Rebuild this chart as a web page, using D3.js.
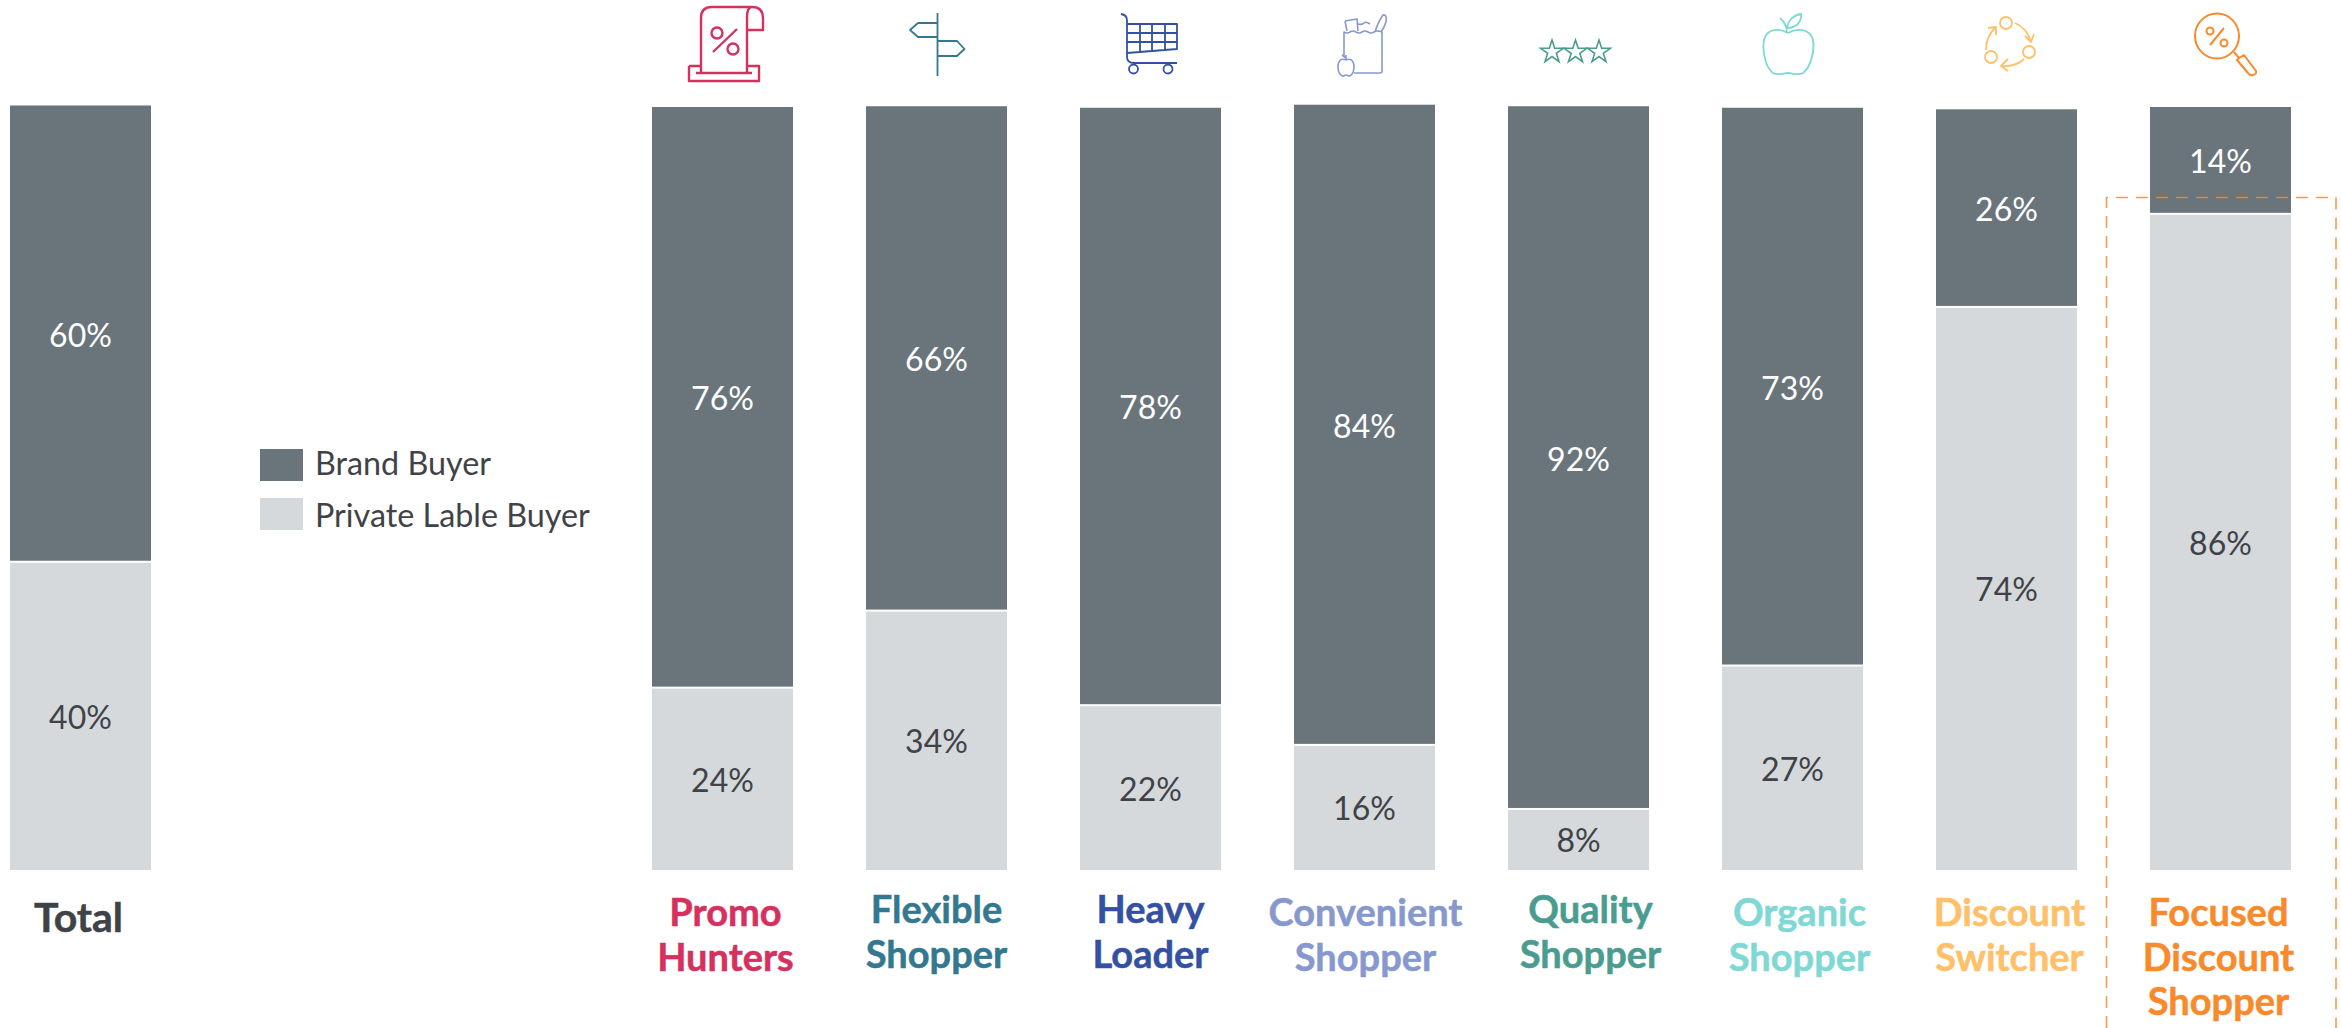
<!DOCTYPE html>
<html><head><meta charset="utf-8">
<script src="https://cdn.jsdelivr.net/npm/d3@7"></script>
<style>html,body{margin:0;padding:0;background:#fff}svg{display:block}text{font-family:Lato,sans-serif}</style>
</head><body><svg id="c" width="2341" height="1028"></svg>
<script>
const categories=["Total","Promo Hunters","Flexible Shopper","Heavy Loader","Convenient Shopper","Quality Shopper","Organic Shopper","Discount Switcher","Focused Discount Shopper"];
const slots=["Total","gap1","gap2","Promo Hunters","Flexible Shopper","Heavy Loader","Convenient Shopper","Quality Shopper","Organic Shopper","Discount Switcher","Focused Discount Shopper"];
const brandValues=[59.8,76.1,66.1,78.3,83.9,92.1,73.1,25.9,14.0];
const privateValues=[40.4,23.9,34.0,21.6,16.4,8.0,26.8,73.8,86.0];
const brandLabels=["60%","76%","66%","78%","84%","92%","73%","26%","14%"];
const privateLabels=["40%","24%","34%","22%","16%","8%","27%","74%","86%"];
const nameLines=[["Total"],["Promo","Hunters"],["Flexible","Shopper"],["Heavy","Loader"],["Convenient","Shopper"],["Quality","Shopper"],["Organic","Shopper"],["Discount","Switcher"],["Focused","Discount","Shopper"]];
const nameColors=["#3f4347","#d6305f","#33788f","#3450a3","#8798cf","#4a9c90","#7fd8d3","#ffc069","#f98a2b"];
const nameDx=[-2,3,0,0,1,12,7,3,-2];
const nameBaseline=[932,926,923,923,926,923,926,926,926];
const nameSize=[41,38,38,38,38,38,38,38,38];
const legendItems=["Brand Buyer","Private Lable Buyer"];
const brandColor="#6a757b",privateColor="#d5d9dc",textDark="#3f4347";

const svg=d3.select("#c");
const x=d3.scaleBand().domain(slots).range([10,2291]).paddingInner(73/214).paddingOuter(0);
const y=d3.scaleLinear().domain([0,100]).range([870,107]);
const rows=categories.map((c,i)=>({c,i,b:brandValues[i],p:privateValues[i]}));
const bars=svg.append("g").selectAll("g").data(rows).join("g");
bars.append("rect").attr("x",d=>x(d.c)).attr("width",x.bandwidth())
  .attr("y",d=>y(d.p+d.b)).attr("height",d=>y(d.p)-y(d.p+d.b)-1).attr("fill",brandColor);
bars.append("rect").attr("x",d=>x(d.c)).attr("width",x.bandwidth())
  .attr("y",d=>y(d.p)+1).attr("height",d=>y(0)-y(d.p)-1).attr("fill",privateColor);
const cx=d=>x(d.c)+x.bandwidth()/2;
bars.append("text").attr("x",cx).attr("y",d=>(y(d.p)+y(d.p+d.b))/2+13).attr("text-anchor","middle")
  .attr("font-size",32).attr("fill","#fff").text(d=>brandLabels[d.i]);
bars.append("text").attr("x",cx).attr("y",d=>(y(0)+y(d.p))/2+13).attr("text-anchor","middle")
  .attr("font-size",32).attr("fill",textDark).text(d=>privateLabels[d.i]);
// category names
bars.each(function(d){
  const g=d3.select(this);
  nameLines[d.i].forEach((t,k)=>{
    g.append("text").attr("x",cx(d)+nameDx[d.i]).attr("y",nameBaseline[d.i]+k*44.5)
     .attr("text-anchor","middle").attr("font-size",nameSize[d.i]).attr("font-weight",700)
     .attr("stroke",nameColors[d.i]).attr("stroke-width",0.5)
     .attr("fill",nameColors[d.i]).text(t);
  });
});
// legend
const lg=svg.append("g").selectAll("g").data(legendItems).join("g");
lg.append("rect").attr("x",260).attr("width",43).attr("y",(d,i)=>449+i*49).attr("height",32)
  .attr("fill",(d,i)=>i?privateColor:brandColor);
lg.append("text").attr("x",315).attr("y",(d,i)=>475+i*52).attr("font-size",32.3).attr("fill",textDark).text(d=>d);
// highlight box
svg.append("path").attr("d","M2106.5,1028V197.5H2336V1028").attr("fill","none")
  .attr("stroke","#f98a2b").attr("stroke-width",1.6).attr("stroke-dasharray","12 8").attr("opacity",.85);
// icons
const icons=[
 {c:"#d6305f",w:2.4,d:"M701,73V18Q701,7 712,7H752Q763,7 763,18V30H747V18Q747,7 752,7M747,30V73M696,73H752M689,66H701M747,66H759V81H689V66M737,29L713,52M722.5,33a5.5,5.5 0 1,1 -11,0a5.5,5.5 0 1,1 11,0M738.5,49a5.5,5.5 0 1,1 -11,0a5.5,5.5 0 1,1 11,0"},
 {c:"#33788f",w:1.8,d:"M937.5,13V76M937.5,23H918L910,30L918,37H937.5M937.5,41H957L964.5,49L957,56H937.5"},
 {c:"#3450a3",w:1.8,d:"M1121,14Q1127,15 1127,20V57Q1127,63 1134,63H1177M1127,24H1177V49L1127,53M1127,33H1177M1127,42H1177M1140,24V52M1152,24V51M1165,24V50M1138,69a4.5,4.5 0 1,1 -9,0a4.5,4.5 0 1,1 9,0M1172.500,69a4.500,4.500 0 1,1 -9,0a4.500,4.500 0 1,1 9,0"},
 {c:"#8798cf",w:1.6,d:"M1344,56V32Q1347,34 1350,32T1356,32T1362,32T1368,32T1374,32T1382,32V71Q1382,73 1380,73H1354M1345,21L1357,19L1358,31M1345,21L1347,31M1358,24Q1362,25 1364,23T1370,24M1375,32Q1378,22 1383,15Q1387,14 1386,22Q1384,28 1381,32M1346,60c-4,-2 -8,0 -8,7c0,6 3,9 5,9c1,0 2,-1 3,-1c1,0 2,1 3,1c2,0 5,-3 5,-9c0,-7 -4,-9 -8,-7M1346,60V55M1346,58L1342,55"},
 {c:"#7fd8d3",w:1.8,d:"M1788,33C1780,28 1767,28 1764,40C1762,52 1766,68 1773,73C1778,76 1784,73 1788,73C1792,73 1798,76 1803,73C1810,68 1815,52 1813,40C1810,28 1796,28 1788,33M1787,33Q1787,24 1780,18M1787,28C1788,20 1794,15 1801,14C1802,22 1796,28 1787,28"},
 {c:"#ffc069",w:1.8,d:"M2012,23a6,6 0 1,1 -12,0a6,6 0 1,1 12,0M2035,52a6,6 0 1,1 -12,0a6,6 0 1,1 12,0M1997,57a6,6 0 1,1 -12,0a6,6 0 1,1 12,0M2015,23Q2027,28 2031,42M2025,36L2031,42L2034,34M2024,59Q2016,67 2001,66M2008,59L2001,66L2008,71M1986,50Q1986,36 1996,27M1988,28L1996,27L1996,35"},
 {c:"#f98a2b",w:2,d:"M2239,36a22,22.500 0 1,1 -44,0a22,22.500 0 1,1 44,0M2234,52L2239,58M2239,58L2244,55L2256,71Q2257,74 2253,75Q2250,76 2248,73L2237,60ZM2224,28L2210,45M2213.500,31a3.500,3.500 0 1,1 -7,0a3.500,3.500 0 1,1 7,0M2227.500,43a3.500,3.500 0 1,1 -7,0a3.500,3.500 0 1,1 7,0"}
];
svg.append("g").attr("fill","none").selectAll("path").data(icons).join("path")
  .attr("d",d=>d.d).attr("stroke",d=>d.c).attr("stroke-width",d=>d.w).attr("stroke-linejoin","round");
const star=d3.symbol().type(d3.symbolStar).size(160)();
svg.append("g").selectAll("path").data([1552,1575.5,1599]).join("path")
  .attr("transform",d=>`translate(${d},52)`).attr("d",star).attr("fill","none")
  .attr("stroke","#4a9c90").attr("stroke-width",1.6);
</script></body></html>
